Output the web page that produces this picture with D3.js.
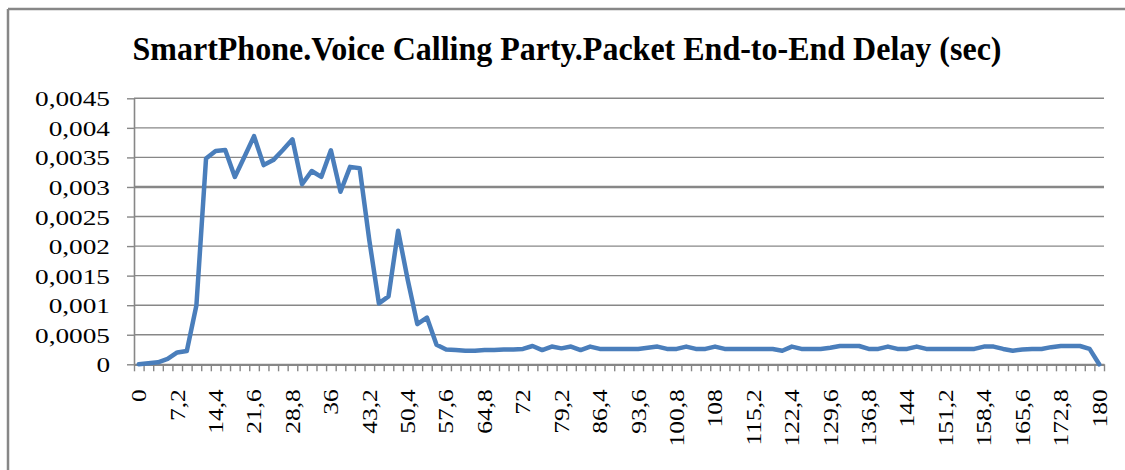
<!DOCTYPE html>
<html>
<head>
<meta charset="utf-8">
<script src="https://cdn.jsdelivr.net/npm/d3@7"></script>
<style>
  html, body { margin: 0; padding: 0; background: #fff; }
  svg { display: block; }
  text { font-family: "Liberation Serif", "Times New Roman", serif; fill: #000; }
</style>
</head>
<body>
<svg id="chart" width="1125" height="470"></svg>
<script>
// Simulation time (sec), one sample every 1.8 s
const categories = [
  0, 1.8, 3.6, 5.4, 7.2, 9, 10.8, 12.6, 14.4, 16.2,
  18, 19.8, 21.6, 23.4, 25.2, 27, 28.8, 30.6, 32.4, 34.2,
  36, 37.8, 39.6, 41.4, 43.2, 45, 46.8, 48.6, 50.4, 52.2,
  54, 55.8, 57.6, 59.4, 61.2, 63, 64.8, 66.6, 68.4, 70.2,
  72, 73.8, 75.6, 77.4, 79.2, 81, 82.8, 84.6, 86.4, 88.2,
  90, 91.8, 93.6, 95.4, 97.2, 99, 100.8, 102.6, 104.4, 106.2,
  108, 109.8, 111.6, 113.4, 115.2, 117, 118.8, 120.6, 122.4, 124.2,
  126, 127.8, 129.6, 131.4, 133.2, 135, 136.8, 138.6, 140.4, 142.2,
  144, 145.8, 147.6, 149.4, 151.2, 153, 154.8, 156.6, 158.4, 160.2,
  162, 163.8, 165.6, 167.4, 169.2, 171, 172.8, 174.6, 176.4, 178.2,
  180
];

// Packet end-to-end delay (sec)
const delay = [
  0, 0.000017, 0.000034, 0.00009, 0.0002, 0.000225, 0.001, 0.00348, 0.00361, 0.003625,
  0.00317, 0.00351, 0.00386, 0.00337, 0.003455, 0.003625, 0.003806, 0.003045, 0.00327, 0.00317,
  0.00362, 0.00292, 0.00334, 0.003315, 0.0021, 0.00103, 0.00115, 0.00226, 0.00143, 0.00068,
  0.00079, 0.00033, 0.00025, 0.00024, 0.00023, 0.00023, 0.00024, 0.00024, 0.00025, 0.00025,
  0.00026, 0.00031, 0.00024, 0.0003, 0.00027, 0.0003, 0.00024, 0.0003, 0.00026, 0.00026,
  0.00026, 0.00026, 0.00026, 0.00028, 0.0003, 0.00026, 0.00026, 0.0003, 0.00026, 0.00026,
  0.0003, 0.00026, 0.00026, 0.00026, 0.00026, 0.00026, 0.00026, 0.00023, 0.0003, 0.00026,
  0.00026, 0.00026, 0.00028, 0.00031, 0.00031, 0.00031, 0.00026, 0.00026, 0.0003, 0.00026,
  0.00026, 0.0003, 0.00026, 0.00026, 0.00026, 0.00026, 0.00026, 0.00026, 0.0003, 0.0003,
  0.00026, 0.00023, 0.00025, 0.00026, 0.00026, 0.00029, 0.00031, 0.00031, 0.00031, 0.00026,
  0
];

// Category labels shown on the x axis (every 4th sample)
const xTickLabels = [
  "0", "7,2", "14,4", "21,6", "28,8", "36", "43,2", "50,4", "57,6", "64,8",
  "72", "79,2", "86,4", "93,6", "100,8", "108", "115,2", "122,4", "129,6", "136,8",
  "144", "151,2", "158,4", "165,6", "172,8", "180"
];

// Value axis ticks and their labels
const yTickValues = [0, 0.0005, 0.001, 0.0015, 0.002, 0.0025, 0.003, 0.0035, 0.004, 0.0045];
const yTickLabels = ["0", "0,0005", "0,001", "0,0015", "0,002", "0,0025", "0,003", "0,0035", "0,004", "0,0045"];

const titleText = "SmartPhone.Voice Calling Party.Packet End-to-End Delay (sec)";

const svg = d3.select("#chart");
const gridColor = "#878787";
const plotLeft = 134, plotRight = 1104, plotTop = 98.3, plotBottom = 364.3;

// Outer frame (top and left edges)
svg.append("line").attr("x1", 8).attr("x2", 1125).attr("y1", 9).attr("y2", 9)
  .attr("stroke", gridColor).attr("stroke-width", 2.5);
svg.append("line").attr("x1", 8).attr("x2", 8).attr("y1", 9).attr("y2", 470)
  .attr("stroke", gridColor).attr("stroke-width", 2.5);

// Scales: category boundaries 0..N map to the plot width; sample i sits at i + 0.5
const n = categories.length;
const xb = d3.scaleLinear().domain([0, n]).range([plotLeft, plotRight]);
const y = d3.scaleLinear().domain([0, 0.0045]).range([plotBottom, plotTop]);

// Horizontal gridlines
svg.append("g").selectAll("line")
  .data(yTickValues.filter(v => v > 0))
  .join("line")
  .attr("x1", plotLeft).attr("x2", plotRight)
  .attr("y1", d => y(d)).attr("y2", d => y(d))
  .attr("stroke", gridColor)
  .attr("stroke-width", d => d === 0.003 ? 2.6 : 1.4);

// Stretch text nodes along their writing direction
function stretch(sel, factor) {
  sel.each(function () {
    const len = this.getComputedTextLength();
    d3.select(this).attr("textLength", len * factor).attr("lengthAdjust", "spacingAndGlyphs");
  });
}

// Y axis
const yAxis = svg.append("g")
  .attr("transform", `translate(${plotLeft},0)`)
  .call(d3.axisLeft(y)
    .tickValues(yTickValues)
    .tickFormat((d, i) => yTickLabels[i])
    .tickSizeInner(7).tickSizeOuter(0).tickPadding(17));
yAxis.select(".domain").attr("stroke", gridColor).attr("stroke-width", 1.6);
yAxis.selectAll(".tick line").attr("stroke", gridColor).attr("stroke-width", 1.4);
yAxis.selectAll(".tick text")
  .attr("font-size", 22)
  .attr("font-family", "Liberation Serif, serif")
  .attr("fill", "#000")
  .attr("dy", "0.34em");
stretch(yAxis.selectAll(".tick text"), 1.24);

// X axis: tick marks at category boundaries
const xTicks = svg.append("g")
  .attr("transform", `translate(0,${plotBottom})`)
  .call(d3.axisBottom(xb)
    .tickValues(d3.range(0, n + 1))
    .tickFormat("")
    .tickSizeInner(7).tickSizeOuter(0));
xTicks.select(".domain").attr("stroke", gridColor).attr("stroke-width", 2.2);
xTicks.selectAll(".tick line").attr("stroke", gridColor).attr("stroke-width", 1.4);

// X axis labels at every 4th category centre, rotated
const labelIdx = xTickLabels.map((_, k) => k * 4);
const xLabels = svg.append("g")
  .attr("transform", `translate(0,${plotBottom})`)
  .call(d3.axisBottom(xb)
    .tickValues(labelIdx.map(i => i + 0.5))
    .tickFormat((d, k) => xTickLabels[k])
    .tickSize(0));
xLabels.select(".domain").remove();
xLabels.selectAll(".tick text")
  .attr("font-size", 20)
  .attr("font-family", "Liberation Serif, serif")
  .attr("fill", "#000")
  .attr("text-anchor", "end")
  .attr("transform", "rotate(-90)")
  .attr("x", -25)
  .attr("y", 0)
  .attr("dy", "0.34em");
stretch(xLabels.selectAll(".tick text"), 1.27);

// Delay series
const line = d3.line()
  .x((d, i) => xb(i + 0.5))
  .y(d => y(d));
svg.append("path")
  .datum(delay)
  .attr("d", line)
  .attr("fill", "none")
  .attr("stroke", "#4a7ebb")
  .attr("stroke-width", 4.5)
  .attr("stroke-linejoin", "round")
  .attr("stroke-linecap", "round");

// Title (condensed to its fixed width)
svg.append("text")
  .attr("x", 567).attr("y", 60)
  .attr("text-anchor", "middle")
  .attr("font-size", 34)
  .attr("font-weight", "bold")
  .attr("textLength", 869)
  .attr("lengthAdjust", "spacingAndGlyphs")
  .text(titleText);
</script>
</body>
</html>
